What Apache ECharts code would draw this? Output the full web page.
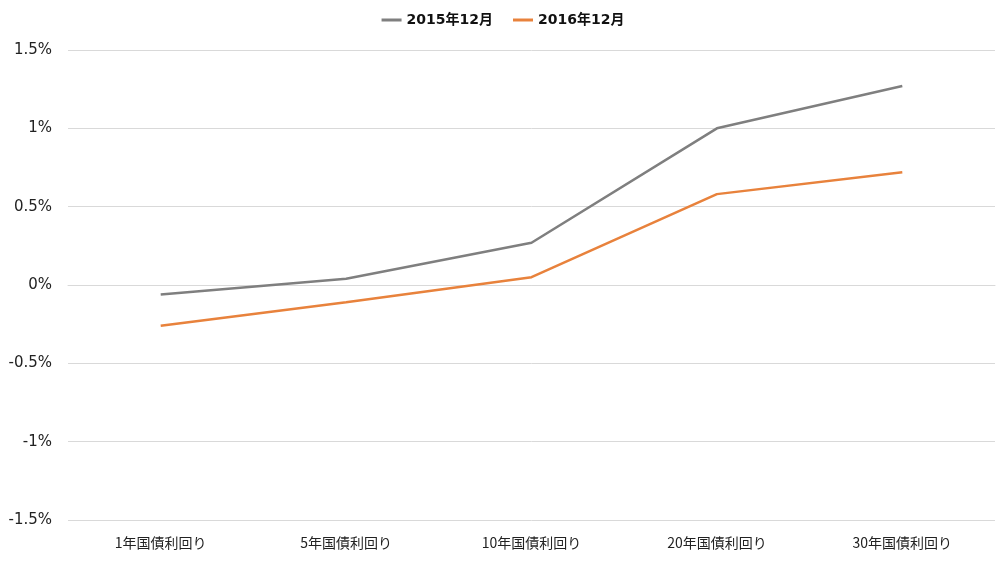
<!DOCTYPE html>
<html><head><meta charset="utf-8">
<script src="https://cdn.jsdelivr.net/npm/echarts@6/dist/echarts.min.js"></script>
<style>html,body{margin:0;padding:0;background:#fff}#c{width:1006px;height:566px}</style>
</head><body><div id="c"></div>
<script>
const categories = ['1年国債利回り','5年国債利回り','10年国債利回り','20年国債利回り','30年国債利回り'];
const series2015 = [-0.06, 0.04, 0.27, 1.00, 1.27];
const series2016 = [-0.26, -0.11, 0.05, 0.58, 0.72];
const yTicks = {min: -1.5, max: 1.5, interval: 0.5};

const chart = echarts.init(document.getElementById('c'));
chart.setOption({
  animation: false,
  backgroundColor: '#fff',
  legend: {
    top: 8, left: 'center', itemWidth: 20, itemHeight: 3, itemGap: 20,
    icon: 'rect',
    textStyle: {fontFamily: '"DejaVu Sans", "Noto Sans CJK JP", sans-serif', fontWeight: 'bold', fontSize: 14, color: '#111'},
    data: ['2015年12月','2016年12月']
  },
  grid: {left: 68, right: 11, top: 50, bottom: 46},
  xAxis: {
    type: 'category', data: categories, boundaryGap: true,
    axisLine: {show: true, lineStyle: {color: '#d9d9d9'}},
    axisTick: {show: false},
    axisLabel: {margin: 16, fontFamily: '"Noto Sans CJK JP", sans-serif', fontSize: 14, color: '#222'}
  },
  yAxis: {
    type: 'value', min: yTicks.min, max: yTicks.max, interval: yTicks.interval,
    axisLine: {show: false}, axisTick: {show: false},
    splitLine: {lineStyle: {color: '#d9d9d9'}},
    axisLabel: {margin: 16, fontFamily: '"DejaVu Sans", Verdana, sans-serif', fontSize: 15, color: '#222',
      formatter: v => (Math.round(v*10)/10) + '%'}
  },
  series: [
    {name: '2015年12月', type: 'line', data: series2015, symbol: 'none', lineStyle: {width: 2.5, color: '#7f7f7f'}, itemStyle: {color: '#7f7f7f'}},
    {name: '2016年12月', type: 'line', data: series2016, symbol: 'none', lineStyle: {width: 2.5, color: '#e8823c'}, itemStyle: {color: '#e8823c'}}
  ]
});
</script></body></html>
